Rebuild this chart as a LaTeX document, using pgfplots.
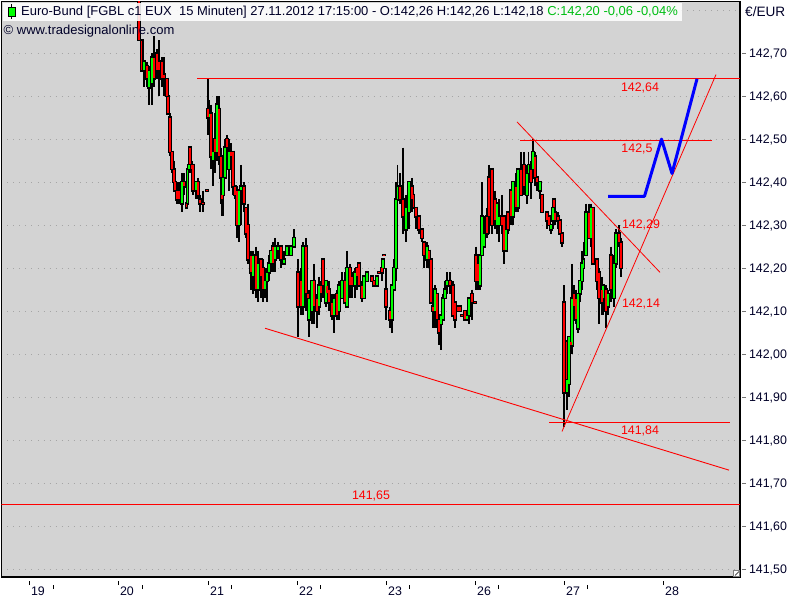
\documentclass[border=0pt]{standalone}
\usepackage{fontspec}
\setmainfont{Liberation Sans}
\usepackage{pgfplots}
\usepackage{pgfplotstable}
\pgfplotsset{compat=1.18}

\definecolor{chartbg}{RGB}{211,211,211}
\definecolor{navy}{RGB}{0,0,40}
\definecolor{upgreen}{RGB}{0,255,0}
\definecolor{titlegreen}{RGB}{0,190,20}
\definecolor{gridgray}{RGB}{165,165,165}

% x is the pixel column of the bar, prices as read off the right scale
\pgfplotstableread{
x o h l c
144 142.66 142.68 142.62 142.68
149 142.62 142.67 142.58 142.66
152 142.63 142.70 142.58 142.69
182 142.35 142.42 142.33 142.40
187.5 142.35 142.43 142.34 142.43
189 142.43 142.44 142.42 142.44
196 142.38 142.40 142.36 142.40
209.5 142.55 142.59 142.54 142.56
213 142.45 142.50 142.39 142.47
217 142.47 142.60 142.45 142.58
223 142.37 142.41 142.32 142.41
225 142.41 142.50 142.41 142.48
229 142.43 142.50 142.38 142.47
239 142.30 142.38 142.26 142.38
241 142.38 142.44 142.30 142.39
253 142.18 142.24 142.14 142.23
258 142.15 142.24 142.12 142.21
265 142.15 142.20 142.13 142.17
267 142.17 142.20 142.12 142.19
269 142.19 142.23 142.17 142.21
271 142.21 142.24 142.19 142.24
275 142.22 142.27 142.19 142.25
278 142.24 142.26 142.22 142.25
284 142.21 142.24 142.21 142.22
287 142.23 142.25 142.23 142.25
291 142.23 142.25 142.23 142.25
294 142.25 142.29 142.25 142.27
303 142.11 142.26 142.09 142.25
309 142.08 142.15 142.04 142.13
312 142.10 142.17 142.07 142.17
319 142.11 142.18 142.09 142.16
326 142.12 142.17 142.11 142.17
334 142.09 142.14 142.05 142.13
339 142.10 142.17 142.08 142.16
342 142.13 142.19 142.13 142.17
347 142.11 142.24 142.11 142.20
355 142.16 142.20 142.13 142.19
364 142.13 142.18 142.13 142.18
367 142.17 142.19 142.17 142.19
377 142.16 142.18 142.16 142.18
383 142.20 142.22 142.20 142.22
392 142.08 142.16 142.05 142.16
394 142.15 142.22 142.15 142.20
396 142.20 142.40 142.17 142.36
397.5 142.36 142.44 142.34 142.39
406 142.29 142.37 142.26 142.34
409 142.33 142.40 142.29 142.40
427 142.22 142.26 142.20 142.25
435 142.10 142.16 142.06 142.15
441 142.07 142.09 142.01 142.09
443 142.08 142.14 142.08 142.13
445 142.13 142.17 142.13 142.15
447 142.16 142.19 142.14 142.17
467 142.08 142.09 142.08 142.09
469 142.09 142.13 142.07 142.13
480 142.16 142.23 142.15 142.23
482 142.23 142.40 142.23 142.32
484 142.25 142.32 142.25 142.28
497 142.30 142.35 142.28 142.35
499 142.30 142.36 142.26 142.32
506 142.24 142.30 142.24 142.29
513 142.32 142.40 142.30 142.40
518 142.34 142.43 142.33 142.43
527 142.37 142.44 142.35 142.42
528.5 142.42 142.47 142.40 142.44
533 142.43 142.50 142.42 142.47
540 142.38 142.40 142.36 142.40
551 142.29 142.30 142.28 142.30
553 142.31 142.36 142.29 142.34
567 141.91 141.94 141.87 141.94
569 141.93 142.04 141.90 142.04
572 142.02 142.21 142.00 142.13
578 142.06 142.14 142.05 142.14
580 142.14 142.17 142.12 142.17
582 142.17 142.24 142.15 142.21
583.5 142.20 142.26 142.18 142.22
586 142.23 142.35 142.23 142.33
591 142.27 142.35 142.25 142.34
603 142.13 142.16 142.09 142.16
608 142.11 142.15 142.09 142.14
614 142.13 142.23 142.11 142.21
616 142.21 142.29 142.20 142.28
}\upbars

\pgfplotstableread{
x o h l c
139 142.90 142.90 142.73 142.73
141.7 142.73 142.73 142.66 142.66
147 142.67 142.68 142.62 142.64
154 142.69 142.74 142.62 142.64
157 142.70 142.71 142.64 142.66
159 142.68 142.73 142.60 142.66
162 142.68 142.69 142.62 142.64
164 142.65 142.69 142.60 142.64
167 142.64 142.64 142.58 142.60
168 142.60 142.60 142.56 142.56
170 142.55 142.56 142.46 142.47
172 142.47 142.47 142.42 142.43
174 142.43 142.45 142.40 142.40
175 142.40 142.41 142.38 142.38
177 142.38 142.40 142.35 142.36
179 142.38 142.40 142.35 142.36
184 142.40 142.42 142.37 142.39
186.5 142.35 142.35 142.34 142.34
190 142.48 142.48 142.42 142.44
192 142.44 142.45 142.41 142.43
193 142.44 142.44 142.37 142.38
198 142.40 142.41 142.36 142.37
200 142.36 142.37 142.33 142.35
203 142.35 142.38 142.33 142.35
207 142.38 142.38 142.38 142.38
208 142.57 142.64 142.51 142.55
211 142.56 142.58 142.43 142.46
215 142.50 142.56 142.42 142.47
219 142.57 142.60 142.44 142.46
221 142.46 142.48 142.35 142.41
222 142.37 142.37 142.32 142.36
227 142.50 142.51 142.43 142.48
231 142.47 142.49 142.43 142.46
233 142.47 142.47 142.37 142.39
235 142.39 142.39 142.36 142.37
237 142.38 142.39 142.27 142.30
244 142.39 142.40 142.33 142.35
246 142.34 142.34 142.27 142.28
248 142.30 142.35 142.21 142.22
251 142.23 142.24 142.15 142.19
256 142.23 142.25 142.13 142.15
261 142.22 142.22 142.13 142.18
263 142.20 142.22 142.12 142.15
273 142.25 142.26 142.19 142.21
281 142.25 142.25 142.20 142.22
298 142.19 142.22 142.04 142.11
301 142.17 142.20 142.09 142.11
306 142.25 142.27 142.10 142.14
308 142.14 142.14 142.08 142.13
314 142.17 142.21 142.07 142.11
317 142.13 142.14 142.06 142.10
321 142.16 142.17 142.12 142.14
323 142.22 142.22 142.13 142.16
327 142.16 142.17 142.12 142.14
329 142.15 142.17 142.10 142.12
332 142.12 142.14 142.08 142.09
337 142.14 142.15 142.08 142.09
345 142.17 142.19 142.12 142.12
350 142.20 142.21 142.13 142.16
352 142.18 142.19 142.13 142.16
357 142.20 142.20 142.15 142.18
359 142.21 142.21 142.16 142.16
362 142.16 142.17 142.12 142.13
372 142.18 142.18 142.17 142.17
374 142.17 142.17 142.16 142.16
379 142.19 142.19 142.19 142.19
382 142.20 142.20 142.17 142.19
384 142.23 142.23 142.23 142.23
386 142.15 142.20 142.08 142.11
390 142.10 142.11 142.06 142.08
400 142.39 142.42 142.35 142.36
403 142.36 142.48 142.28 142.32
412 142.39 142.41 142.33 142.36
413.5 142.37 142.38 142.34 142.34
416 142.34 142.34 142.29 142.32
419 142.32 142.32 142.28 142.29
422 142.29 142.29 142.26 142.27
424 142.26 142.26 142.20 142.23
429 142.24 142.24 142.20 142.22
431 142.22 142.22 142.12 142.12
433 142.11 142.12 142.06 142.10
437 142.14 142.14 142.06 142.08
439 142.08 142.09 142.02 142.05
450 142.17 142.19 142.14 142.16
453 142.16 142.17 142.09 142.09
455 142.12 142.12 142.06 142.08
458 142.11 142.11 142.10 142.10
460 142.11 142.11 142.10 142.10
462 142.09 142.09 142.09 142.09
465 142.10 142.10 142.08 142.08
472 142.14 142.15 142.08 142.12
475 142.12 142.12 142.12 142.12
476 142.23 142.25 142.15 142.17
478 142.21 142.22 142.15 142.17
487 142.32 142.34 142.27 142.28
489 142.41 142.44 142.28 142.32
492 142.43 142.43 142.28 142.30
495 142.36 142.38 142.29 142.31
502 142.32 142.37 142.28 142.30
504 142.32 142.32 142.21 142.24
508 142.33 142.33 142.28 142.29
511 142.38 142.38 142.30 142.32
516 142.39 142.42 142.33 142.34
521 142.43 142.47 142.37 142.37
524 142.44 142.47 142.37 142.39
531 142.43 142.45 142.36 142.40
535 142.46 142.47 142.39 142.41
537 142.41 142.41 142.38 142.40
542 142.37 142.37 142.33 142.33
547 142.33 142.33 142.29 142.31
549 142.32 142.32 142.30 142.30
554 142.36 142.36 142.34 142.34
555 142.33 142.34 142.30 142.31
558 142.32 142.33 142.29 142.31
560 142.31 142.31 142.28 142.28
562 142.28 142.28 142.25 142.26
564 142.12 142.16 141.83 141.91
566.5 142.03 142.03 141.94 141.94
571 142.03 142.04 142.01 142.02
574 142.14 142.16 142.08 142.11
576 142.13 142.15 142.07 142.08
589 142.33 142.35 142.27 142.27
593 142.34 142.34 142.21 142.21
597 142.22 142.22 142.15 142.17
599 142.19 142.20 142.07 142.13
602 142.15 142.18 142.09 142.12
606 142.15 142.16 142.06 142.10
611 142.23 142.25 142.12 142.15
619 142.28 142.30 142.25 142.26
621 142.26 142.27 142.18 142.20
}\downbars

% one pass of bars: table, top column, bottom column, extra at each end, colour, width
\newcommand{\barpass}[6]{%
  \addplot[draw=none, no markers, forget plot,
    error bars/.cd, y dir=both, y explicit,
    error bar style={draw=#5, line width=#6, line cap=butt},
    error mark=none]
    table[x=x, y expr=\thisrow{#2}+#4,
      y error plus expr=0,
      y error minus expr=\thisrow{#2}-\thisrow{#3}+2*#4] {#1};
}

\begin{document}
\begin{tikzpicture}[x=1pt,y=1pt]
  \useasboundingbox (0,0) rectangle (800,600);
  \begin{axis}[
    anchor=south west, at={(1.5pt,23pt)},
    scale only axis, width=738.5pt, height=575.5pt,
    xmin=1.5, xmax=740, ymin=141.4814, ymax=142.82,
    axis background/.style={fill=chartbg},
    axis line style={black, line width=1.1pt},
    tick align=outside,
    font=\fontsize{12.4}{14}\selectfont,
    ymajorgrids,
    grid style={gridgray, line width=0.9pt, dash pattern=on 0.9pt off 5.1pt},
    ytick={141.5,141.6,141.7,141.8,141.9,142,142.1,142.2,142.3,142.4,142.5,142.6,142.7},
    ytick pos=right, yticklabel pos=right,
    y tick style={gridgray!70!black, line width=0.8pt, xshift=2pt},
    major tick length=4pt, minor tick length=4pt,
    yticklabel style={navy, anchor=west, xshift=1.5pt, yshift=-0.7pt,
      /pgf/number format/.cd, fixed, fixed zerofill, precision=2, use comma,
      1000 sep={}, assume math mode=true},
    scaled y ticks=false,
    xtick={29,118,208,297,386,475,564,663},
    xticklabels={19,20,21,22,23,26,27,28},
    minor xtick={53,142,231,320,409,498,587},
    xtick pos=bottom,
    x tick style={black, line width=0.8pt, yshift=-4pt},
    minor x tick style={black, line width=0.8pt, yshift=-4pt},
    xticklabel style={navy, xshift=9pt, yshift=-2.5pt},
  ]
    % dotted level above the last labelled one
    \addplot[forget plot, gridgray, line width=0.9pt, dash pattern=on 0.9pt off 5.1pt]
      coordinates {(3,142.8) (740,142.8)};

    \barpass{\upbars}{h}{l}{0}{black}{1.35pt}
    \barpass{\downbars}{h}{l}{0}{black}{1.35pt}
    \barpass{\upbars}{c}{o}{0.003}{black}{3.9pt}
    \barpass{\downbars}{o}{c}{0.003}{black}{3.9pt}
    \barpass{\upbars}{c}{o}{-0.001}{upgreen}{1.4pt}
    \barpass{\downbars}{o}{c}{-0.001}{red}{1.4pt}

    % hand drawn levels and trend lines
    \addplot[red, line width=0.9pt] coordinates {(197,142.64) (740,142.64)};
    \addplot[red, line width=1pt] coordinates {(520,142.497) (712,142.497)};
    \addplot[red, line width=0.8pt] coordinates {(517,142.54) (660,142.19)};
    \addplot[red, line width=0.8pt] coordinates {(549,141.84) (730,141.84)};
    \addplot[red, line width=0.9pt] coordinates {(265,142.06) (729,141.73)};
    \addplot[red, line width=0.8pt] coordinates {(562,141.82) (716,142.65)};
    \addplot[red, line width=1pt] coordinates {(1.5,141.65) (740,141.65)};
    \addplot[blue, line width=3pt, line join=round] coordinates
      {(608,142.367) (644.5,142.367) (661.5,142.50) (672,142.42) (697,142.64)};

    \node[red] at (axis cs:640,142.62) {142,64};
    \node[red] at (axis cs:637,142.478) {142,5};
    \node[red] at (axis cs:641,142.30) {142,29};
    \node[red] at (axis cs:641,142.117) {142,14};
    \node[red] at (axis cs:640,141.82) {141,84};
    \node[red] at (axis cs:371,141.67) {141,65};
  \end{axis}

  % title band
  \fill[white, opacity=0.88] (2.5,579) rectangle (682,597);
  \draw[black, line width=0.8pt] (11.5,581) -- (11.5,596);
  \filldraw[fill=upgreen, draw=black, line width=0.8pt] (8,584) rectangle (15,592.5);
  \node[anchor=base west, inner sep=0pt, navy] at (21,584)
    {\fontsize{12.97}{14}\selectfont Euro-Bund [FGBL c1 EUX\ \ 15 Minuten] 27.11.2012 17:15:00 - O:142,26 H:142,26 L:142,18 \textcolor{titlegreen}{C:142,20 -0,06 -0,04\%}};
  \node[anchor=base west, inner sep=0pt, navy] at (3.5,565.5)
    {\fontsize{13}{14}\selectfont © www.tradesignalonline.com};
  \node[anchor=base west, inner sep=0pt, navy] at (745,583.5)
    {\fontsize{13.6}{14}\selectfont €/EUR};
  % resize grip
  \filldraw[fill=white, draw=gray, line width=0.7pt] (733.5,23.5) rectangle (739.5,29.5);
  \draw[black, line width=0.6pt] (735,24.5) -- (739,28.5);
\end{tikzpicture}
\end{document}
